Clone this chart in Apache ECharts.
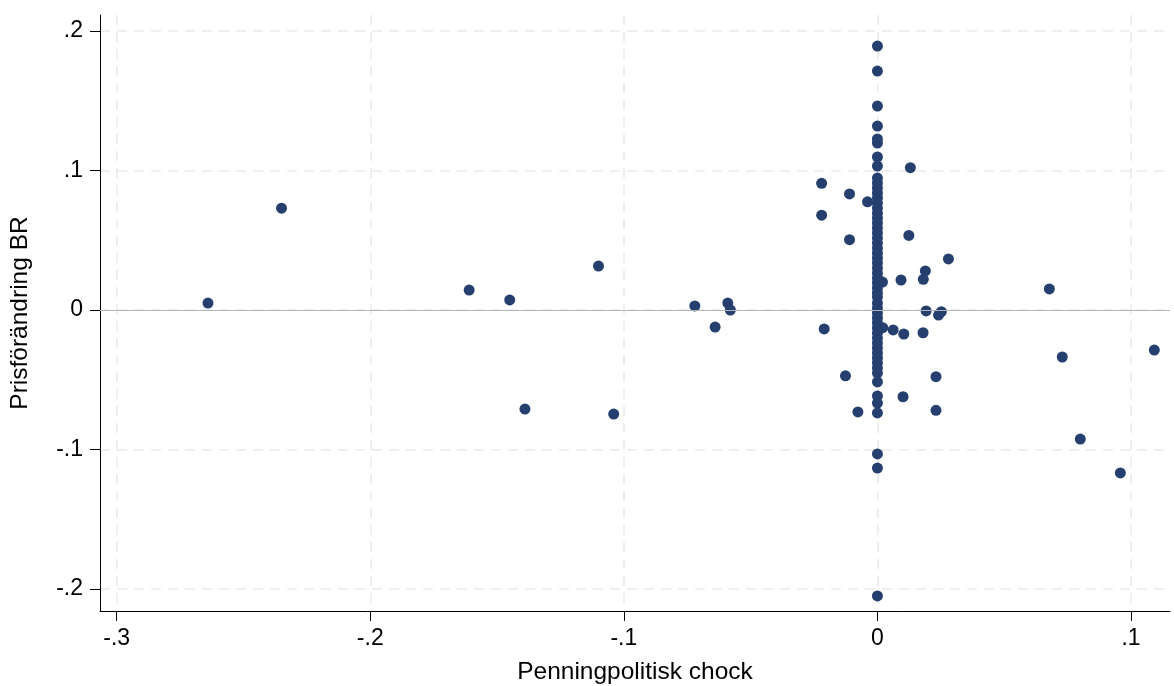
<!DOCTYPE html>
<html>
<head>
<meta charset="utf-8">
<script src="https://cdn.jsdelivr.net/npm/echarts@6/dist/echarts.min.js"></script>
<style>
  html, body { margin: 0; padding: 0; background: #fff; }
  #main { width: 1174px; height: 686px; }
</style>
</head>
<body>
<div id="main"></div>
<script>
// ticks
var xTicks = [-0.3, -0.2, -0.1, 0, 0.1];
var yTicks = [-0.2, -0.1, 0, 0.1, 0.2];

// points off the zero column (shock, price change)
var shockOff = [-0.264, -0.235, -0.161, -0.145, -0.139, -0.110, -0.104, -0.072, -0.064, -0.059, -0.058,
  -0.022, -0.022, -0.021, -0.011, -0.011, -0.0126, -0.0077, -0.0039, 0.013, 0.0124, 0.002, 0.0093,
  0.0189, 0.0181, 0.028, 0.0192, 0.0241, 0.0252, 0.0021, 0.0062, 0.0104, 0.018, 0.0231, 0.0101, 0.0231,
  0.0678, 0.0729, 0.080, 0.0958, 0.1092];
var priceOff = [0.005, 0.073, 0.0143, 0.0072, -0.071, 0.0315, -0.0746, 0.0029, -0.0122, 0.005, 0.0,
  0.0908, 0.068, -0.0136, 0.0832, 0.0504, -0.0472, -0.0731, 0.0776, 0.102, 0.0535, 0.020, 0.0215,
  0.028, 0.022, 0.0366, -0.0007, -0.0036, -0.0012, -0.0127, -0.0143, -0.0172, -0.0163, -0.0478, -0.0622, -0.0719,
  0.0151, -0.0337, -0.0925, -0.1168, -0.0287];

// price changes on days with zero shock
var priceZero = [0.1892, 0.1713, 0.1462, 0.1319, 0.1226, 0.1197, 0.1097, 0.1032,
  0.0946, 0.091, 0.0875, 0.0839, 0.0803, 0.0767, 0.0731, 0.0695, 0.066, 0.0624, 0.0588, 0.0552,
  0.0516, 0.048, 0.0444, 0.0409, 0.0373, 0.0337, 0.0301, 0.0265, 0.0229, 0.0194, 0.0158, 0.0122, 0.0093,
  0.005, 0.0014, -0.0022, -0.0057, -0.0093, -0.0129, -0.0165, -0.0201, -0.0237, -0.0272, -0.0308,
  -0.0344, -0.038, -0.0416, -0.0452, -0.0516, -0.0616, -0.0667, -0.0738, -0.1032, -0.1133, -0.205];

var points = [];
shockOff.forEach(function (s, i) { points.push([s, priceOff[i]]); });
priceZero.forEach(function (p) { points.push([0, p]); });

function fmt(v) {
  var r = Math.round(v * 10) / 10;
  if (r === 0) return '0';
  return String(r).replace('0.', '.');
}

var font = 'Liberation Sans, Arial, Helvetica, sans-serif';
var gridLine = { show: true, lineStyle: { color: '#eaeaea', width: 1.6, type: [10, 7] } };

var chart = echarts.init(document.getElementById('main'));
chart.setOption({
  animation: false,
  grid: { left: 100, right: 4, top: 15, bottom: 75, outerBoundsMode: 'none' },
  xAxis: {
    type: 'value',
    min: -0.30658, max: 0.11538,
    name: 'Penningpolitisk chock',
    nameLocation: 'middle',
    nameGap: 49,
    nameTextStyle: { fontFamily: font, fontSize: 24.5, color: '#000' },
    axisLine: { onZero: false, lineStyle: { color: '#000', width: 1 } },
    axisTick: { customValues: xTicks, length: 10, lineStyle: { color: '#000' } },
    axisLabel: { customValues: xTicks, formatter: fmt, margin: 16, fontFamily: font, fontSize: 23, color: '#000' },
    splitLine: gridLine
  },
  yAxis: {
    type: 'value',
    min: -0.2158, max: 0.2115,
    name: 'Prisförändring BR',
    nameLocation: 'middle',
    nameGap: 67,
    nameTextStyle: { fontFamily: font, fontSize: 24.5, color: '#000' },
    axisLine: { show: true, onZero: false, lineStyle: { color: '#000', width: 1 } },
    axisTick: { show: true, customValues: yTicks, length: 10, lineStyle: { color: '#000' } },
    axisLabel: { customValues: yTicks, formatter: fmt, margin: 17, fontFamily: font, fontSize: 23, color: '#000' },
    splitLine: gridLine
  },
  series: [{
    type: 'scatter',
    data: points,
    symbol: 'circle',
    symbolSize: 11,
    itemStyle: { color: '#253f6f', opacity: 1 },
    markLine: {
      silent: true,
      symbol: 'none',
      label: { show: false },
      lineStyle: { color: '#b5b5b5', width: 1, type: 'solid' },
      data: [{ yAxis: 0 }]
    }
  }]
});
</script>
</body>
</html>
